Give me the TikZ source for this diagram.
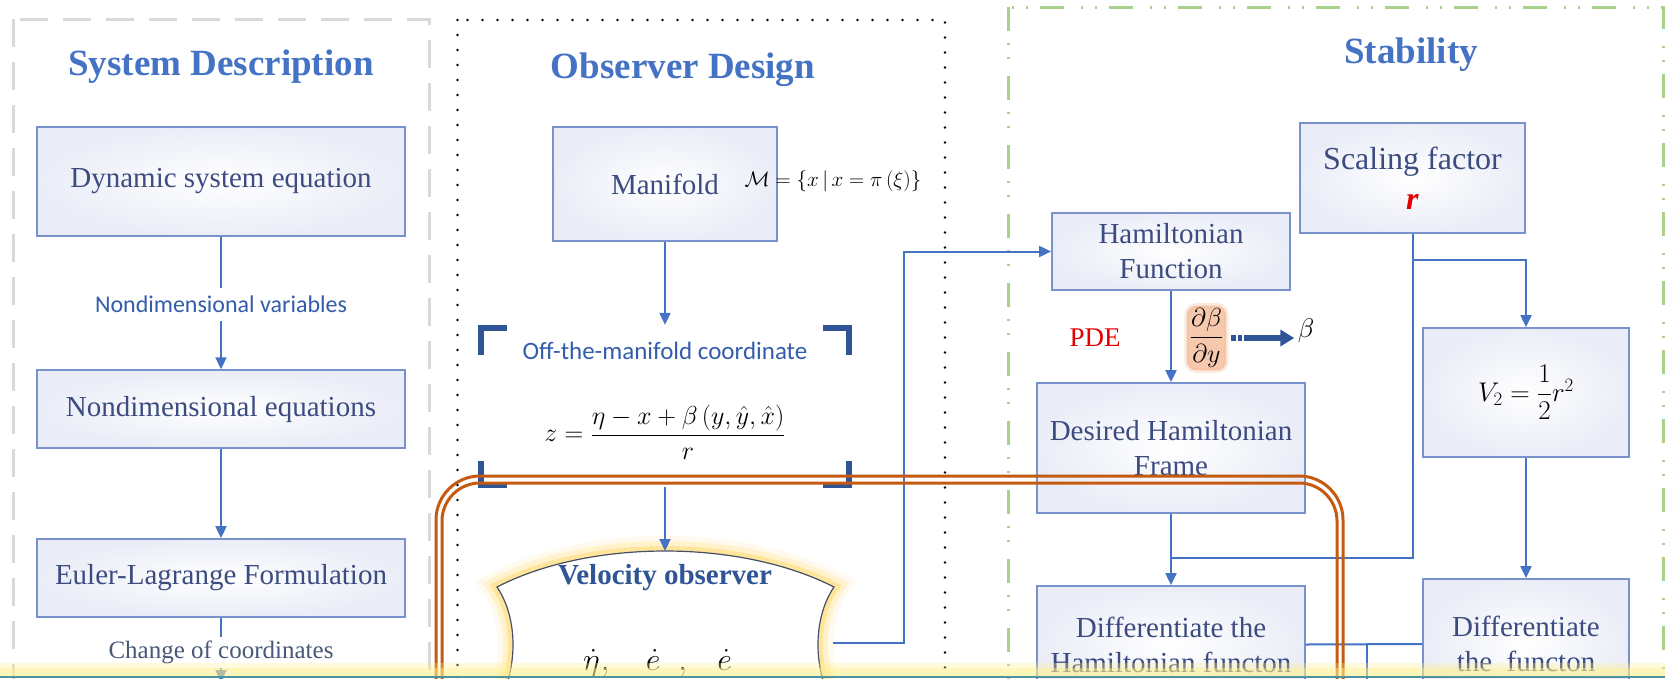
\RequirePackage{fix-cm}
\documentclass[tikz,border=0pt]{standalone}
\usepackage{amsmath}
\usepackage{fontspec}
\setmainfont{Liberation Serif}
\newfontfamily\calibrifont{Carlito}
\usepackage{tikz}
\usetikzlibrary{positioning}
\usetikzlibrary{arrows.meta}

\definecolor{boxline}{RGB}{122,146,204}
\definecolor{boxtop}{RGB}{234,237,247}
\definecolor{boxtext}{RGB}{60,75,128}
\definecolor{flow}{RGB}{68,114,196}
\definecolor{headblue}{RGB}{68,114,196}
\definecolor{labelblue}{RGB}{52,92,172}
\definecolor{graytext}{RGB}{72,88,120}
\definecolor{bracketblue}{RGB}{47,85,151}
\definecolor{rimorange}{RGB}{197,90,17}
\definecolor{panelgray}{RGB}{217,217,217}
\definecolor{panelgreen}{RGB}{169,209,142}
\definecolor{glow}{RGB}{255,210,80}
\definecolor{velrim}{RGB}{70,80,100}
\definecolor{peach}{RGB}{244,184,146}
\definecolor{pdered}{RGB}{228,0,0}
\definecolor{bandyellow}{RGB}{255,240,140}
\definecolor{bandteal}{RGB}{78,148,160}

\begin{document}
\begin{tikzpicture}[
    x=1pt, y=-1pt,
    mybox/.style={draw=boxline, line width=1.8pt, inner color=white, outer color=boxtop,
        text=boxtext, align=center, inner sep=0pt, font=\fontsize{29}{35}\selectfont},
    mytitle/.style={text=headblue, anchor=base, font=\bfseries\fontsize{37}{40}\selectfont},
    mylabel/.style={text=labelblue, inner sep=0pt, minimum height=33pt,
        font=\calibrifont\fontsize{24}{28}\selectfont},
    chglabel/.style={text=graytext, inner sep=0pt, minimum height=31pt,
        font=\fontsize{25}{28}\selectfont},
    myline/.style={draw=flow, line width=2pt},
    myarrow/.style={myline, -{Triangle[length=12pt,width=11pt]}},
    bracket/.style={draw=bracketblue, line width=6pt, line join=miter},
    rim/.style={draw=rimorange, line width=3pt},
    node distance=48pt
    ]

    \useasboundingbox (0,0) rectangle (1665,678);
    \clip (0,0) rectangle (1665,678);
    \fill[white] (0,0) rectangle (1665,678);

    % the three panels
    \draw[panelgray, line width=3pt, dash pattern=on 28pt off 15pt] (13,19) rectangle (429,760);
    \draw[black, line width=2.6pt, line cap=round, dash pattern=on 0pt off 15pt] (457.5,20) rectangle (945,760);
    \draw[panelgreen, line width=3pt, dash pattern=on 24pt off 12pt on 2pt off 12pt on 2pt off 17pt] (1008,7) rectangle (1663,760);

    % system description
    \node[mytitle] (t1) at (221,75) {System Description};
    \node[mybox, minimum width=368pt, minimum height=109pt] (dyn) at (221,181.5) {Dynamic system equation};
    \node[mylabel, below=51pt of dyn] (nvar) {Nondimensional variables};
    \node[mybox, minimum width=368pt, minimum height=78pt, below=48pt of nvar] (ndeq) {Nondimensional equations};
    \node[mybox, minimum width=368pt, minimum height=78pt, below=89pt of ndeq] (el) {Euler-Lagrange Formulation};
    \node[chglabel, below=19pt of el] (coc) {Change of coordinates};
    \coordinate (elout) at (221,682);

    \draw[myline] (dyn) -- (nvar);
    \draw[myarrow] (nvar) -- (ndeq);
    \draw[myarrow] (ndeq) -- (el);
    \draw[myline] (el) -- (coc);
    \draw[myarrow] (coc) -- (elout);

    % observer design
    \node[mytitle] (t2) at (683,78) {Observer Design};
    \node[mybox, minimum width=224pt, minimum height=114pt] (man) at (665,184) {Manifold};
    \node[font=\fontsize{21}{25}\selectfont] (mset) at (833,181)
        {$\mathcal{M}=\left\{x\,\middle|\,x=\pi\left(\xi\right)\right\}$};

    \node[minimum width=368pt, minimum height=157pt, inner sep=0pt] (offm) at (665,406.5) {};
    \node[mylabel, font=\calibrifont\fontsize{25}{28}\selectfont] (offlab) at (665,351) {Off-the-manifold coordinate};
    \node[font=\fontsize{26}{30}\selectfont] (zeq) at (665,432)
        {$z=\dfrac{\eta-x+\beta\left(y,\hat{y},\hat{x}\right)}{r}$};
    \foreach \c/\dx/\dy in {north west/26/-27, north east/-26/-27, south west/26/24, south east/-26/24}
        \draw[bracket] ([yshift=\dy pt]offm.\c) -- (offm.\c) -- ([xshift=\dx pt]offm.\c);

    \draw[fill=white, draw=velrim, line width=1.2pt,
        preaction={draw=glow, line width=30pt, opacity=.10},
        preaction={draw=glow, line width=20pt, opacity=.20},
        preaction={draw=glow, line width=10pt, opacity=.40}]
        (497,587) .. controls (590,539) and (740,539) .. (834,587)
        .. controls (815,615) and (812,660) .. (830,700)
        -- (501,700)
        .. controls (519,660) and (516,615) .. (497,587) -- cycle;
    \coordinate (veltop) at (665,551);
    \coordinate (velout) at (833,643);
    \coordinate (velbend) at (904,643);
    \node[text=bracketblue, font=\bfseries\fontsize{29}{32}\selectfont] (vel) at (665,578) {Velocity observer};
    \node[anchor=base west, inner sep=0pt, font=\fontsize{32}{36}\selectfont] (veldot) at (583,670)
        {$\dot{\eta}\hspace{1pt},\hspace{31pt}\dot{e}\hspace{18pt},\hspace{25pt}\dot{e}$};

    \draw[myarrow, shorten >=3pt] (man) -- (offm.north);
    \draw[myarrow] ([yshift=-2pt]offm.south) -- (veltop);

    % stability
    \node[mytitle] (t3) at (1411,63) {Stability};
    \node[mybox, minimum width=238pt, minimum height=77pt] (ham) at (1171,251.5) {Hamiltonian\\Function};
    \node[mybox, minimum width=225pt, minimum height=110pt, font=\fontsize{32}{40}\selectfont] (scale) at (1412.5,178)
        {Scaling factor\\\textcolor{pdered}{\textbf{\textit{r}}}};
    \node[text=pdered, font=\fontsize{27}{30}\selectfont] (pde) at (1095,338) {PDE};
    \node[fill=peach, fill opacity=.75, text opacity=1, rounded corners=9pt, inner sep=3pt,
        preaction={draw=peach, line width=5pt, opacity=.3, rounded corners=9pt},
        font=\fontsize{26}{30}\selectfont] (dbdy) at (1206.5,338) {$\dfrac{\partial\beta}{\partial y}$};
    \node[font=\fontsize{27}{30}\selectfont] (beta) at (1306,331) {$\beta$};
    \node[mybox, minimum width=268pt, minimum height=130pt] (des) at (1171,448) {Desired Hamiltonian\\Frame};
    \node[mybox, minimum width=268pt, minimum height=117pt] (dif) at (1171,644.5) {Differentiate the\\Hamiltonian functon};
    \node[mybox, minimum width=206pt, minimum height=129pt, text=black, font=\fontsize{27}{32}\selectfont] (vtwo) at (1526,392.5)
        {$V_2=\dfrac{1}{2}r^2$};
    \node[mybox, minimum width=206pt, minimum height=130pt] (dif2) at (1526,644) {Differentiate\\the~~functon};
    \coordinate (join) at (1171,558);
    \coordinate (split) at (1412.5,260);
    \coordinate (tail) at (1367,700);

    \draw[myarrow] (velout) -- (velbend) |- (ham);
    \draw[myarrow] (ham) -- (des);
    \draw[bracketblue, line width=6pt, dash pattern=on 5pt off 2pt on 4pt off 2pt on 80pt,
        shorten <=5pt, -{Triangle[length=14pt,width=16pt]}] (dbdy.east) -- (dbdy.east -| beta.west);
    \draw[myarrow] (des) -- (dif);
    \draw[myline] (scale) -- (scale.south |- join) -- (join);
    \draw[myarrow] (split) -| (vtwo);
    \draw[myarrow] (vtwo) -- (dif2);
    \draw[myline] (dif.east) -- (dif2.west);
    \draw[myline] (dif.east -| tail) -- (tail);

    % double rounded frame
    \draw[rim, rounded corners=44pt] (436,476) rectangle (1343,790);
    \draw[rim, rounded corners=38pt] (442,483) rectangle (1337,790);

    % band along the lower edge
    \fill[bandyellow, opacity=.3] (0,663) rectangle (1665,668);
    \fill[bandyellow, opacity=.6] (0,668) rectangle (1665,675.5);
    \fill[bandteal] (0,675.5) rectangle (1665,678);

\end{tikzpicture}
\end{document}
